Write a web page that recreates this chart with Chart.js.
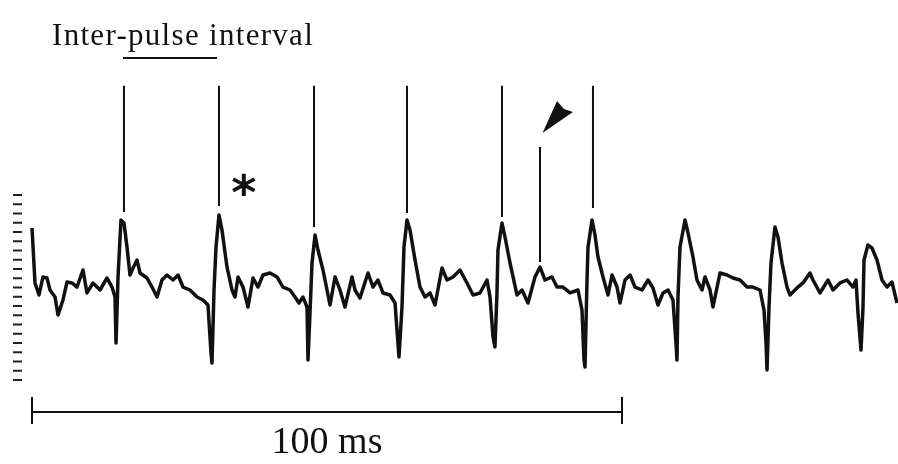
<!DOCTYPE html>
<html>
<head>
<meta charset="utf-8">
<script src="https://cdn.jsdelivr.net/npm/chart.js@4"></script>
<style>
  html, body { margin: 0; padding: 0; background: #fff; }
  #wrap { width: 898px; height: 464px; position: relative; }
</style>
</head>
<body>
<div id="wrap"><canvas id="myChart"></canvas></div>
<script>
// recorded trace, [time in ms, amplitude in scale divisions]
var tracePoints = [
  [0, 16.43], [0.51, 10.49], [1.19, 9.19], [1.86, 11.14], [2.54, 11.03], [3.05, 9.73], [3.9, 8.97], [4.41, 7.03],
  [5.25, 8.65], [5.93, 10.59], [6.78, 10.49], [7.63, 10.05], [8.64, 11.89], [9.32, 9.41], [10.34, 10.49], [11.53, 9.73],
  [12.71, 11.03], [13.56, 10.05], [14.07, 8.97], [14.24, 4.0], [14.58, 11.14], [15.08, 17.3], [15.59, 16.97], [16.1, 14.38],
  [16.61, 11.35], [17.12, 12.11], [17.8, 12.97], [18.31, 11.57], [19.49, 11.03], [20.34, 10.05], [21.19, 8.97], [22.03, 10.81],
  [22.88, 11.35], [23.9, 10.81], [24.75, 11.35], [25.59, 10.05], [26.78, 9.73], [27.97, 8.97], [28.98, 8.65], [29.83, 8.11],
  [30.34, 2.92], [30.51, 1.84], [30.85, 9.73], [31.19, 14.38], [31.69, 17.84], [32.2, 16.22], [33.05, 12.22], [33.9, 9.73],
  [34.41, 8.97], [34.92, 11.14], [35.76, 10.05], [36.61, 7.89], [37.46, 11.03], [38.31, 10.05], [39.15, 11.35], [40.34, 11.57],
  [41.53, 11.14], [42.54, 10.05], [43.73, 9.73], [44.58, 8.97], [45.25, 8.32], [45.93, 8.97], [46.61, 7.89], [46.78, 2.16],
  [47.12, 7.24], [47.46, 12.65], [47.97, 15.68], [48.47, 14.05], [49.32, 11.89], [50.51, 8.11], [51.36, 11.14], [52.2, 9.73],
  [53.05, 7.89], [54.24, 11.14], [54.75, 9.73], [55.59, 8.86], [56.95, 11.57], [57.8, 10.05], [58.64, 10.81], [59.49, 9.41],
  [60.68, 9.19], [61.53, 8.32], [61.86, 5.41], [62.2, 2.49], [62.71, 7.89], [63.05, 14.38], [63.56, 17.3], [64.07, 16.22],
  [64.92, 12.97], [65.76, 10.05], [66.61, 8.97], [67.46, 9.41], [68.31, 8.11], [69.49, 12.11], [70.34, 10.81], [71.36, 11.14],
  [72.54, 11.89], [73.73, 10.49], [74.75, 9.19], [75.93, 9.41], [77.12, 10.81], [77.63, 8.97], [78.14, 4.65], [78.47, 3.57],
  [78.81, 9.41], [78.98, 14.05], [79.66, 16.97], [80.17, 15.46], [81.02, 12.65], [82.2, 9.19], [83.05, 9.73], [84.07, 8.32],
  [85.25, 11.14], [86.1, 12.22], [86.95, 10.81], [88.14, 11.14], [88.98, 10.05], [90.0, 10.05], [91.19, 9.41], [92.54, 9.73],
  [93.22, 7.57], [93.56, 2.16], [93.73, 1.41], [94.07, 10.81], [94.24, 14.38], [94.92, 17.3], [95.42, 15.68], [95.93, 13.3],
  [96.78, 11.14], [97.63, 9.19], [98.31, 11.35], [99.15, 10.05], [99.66, 8.32], [100.51, 10.81], [101.36, 11.35], [102.2, 10.05],
  [103.39, 9.73], [104.41, 10.81], [105.25, 9.95], [106.1, 8.11], [106.95, 9.41], [107.8, 9.73], [108.64, 8.65], [109.15, 4.0],
  [109.32, 2.16], [109.49, 8.97], [109.83, 14.38], [110.68, 17.3], [111.19, 15.89], [112.03, 13.3], [112.71, 10.81], [113.56, 9.73],
  [114.07, 11.14], [114.92, 9.73], [115.42, 7.89], [116.61, 11.57], [117.8, 11.35], [118.81, 11.03], [120.0, 10.81], [121.19, 10.05],
  [122.2, 10.05], [123.39, 9.73], [124.07, 7.57], [124.41, 4.0], [124.58, 1.08], [124.92, 7.89], [125.25, 12.65], [125.93, 16.54],
  [126.44, 15.46], [127.12, 12.65], [127.97, 10.05], [128.47, 9.19], [129.66, 9.95], [130.68, 10.49], [131.86, 11.57], [132.37, 10.81],
  [133.56, 9.41], [134.92, 10.81], [135.76, 9.73], [136.95, 10.49], [138.14, 10.81], [139.15, 10.05], [139.66, 10.81], [140.0, 7.24],
  [140.51, 3.24], [140.85, 7.89], [141.02, 12.97], [141.69, 14.59], [142.37, 14.27], [143.22, 12.97], [144.07, 10.81], [144.92, 10.05],
  [145.76, 10.59], [146.61, 8.32]
];

// pulse markers drawn above the spikes
var markerTimes = [15.59, 31.69, 47.8, 63.56, 79.66, 95.08];
var markerBottoms = [18.16, 18.81, 16.54, 18.05, 17.62, 18.59];
var markerTop = 31.8;

// short marker pointed at by the arrowhead
var extraMarker = { time: 86.1, top: 25.19, bottom: 12.76 };
var arrowHead = [[86.53, 26.7], [88.98, 30.16], [90.17, 29.3], [91.69, 28.97]];

// inter-pulse interval bar
var intervalStart = 15.42;
var intervalEnd = 31.36;
var intervalLevel = 34.81;

// left-hand scale divisions
var divisionValues = [0, 1, 2, 3, 4, 5, 6, 7, 8, 9, 10, 11, 12, 13, 14, 15, 16, 17, 18, 19, 20];
var divisionTime = -2.46;

// time scale bar
var scaleBarStart = 0;
var scaleBarEnd = 100;
var scaleBarLevel = -3.46;
var scaleBarTickTop = -1.84;
var scaleBarTickBottom = -4.76;
var scaleBarLabel = "100 ms";
var scaleBarLabelLevel = -7.89;

var titleText = "Inter-pulse interval";
var titleTime = 3.39;
var titleLevel = 36.2;

var starTime = 35.9;
var starLevel = 20.9;

function segments(list) {
  var out = [];
  list.forEach(function (s) {
    out.push({ x: s[0], y: s[1] });
    out.push({ x: s[2], y: s[3] });
    out.push({ x: s[2], y: null });
  });
  return out;
}

var markerSegs = markerTimes.map(function (t, i) {
  return [t, markerTop, t, markerBottoms[i]];
});
markerSegs.push([extraMarker.time, extraMarker.top, extraMarker.time, extraMarker.bottom]);

var scaleSegs = [
  [scaleBarStart, scaleBarLevel, scaleBarEnd, scaleBarLevel],
  [scaleBarStart, scaleBarTickTop, scaleBarStart, scaleBarTickBottom],
  [scaleBarEnd, scaleBarTickTop, scaleBarEnd, scaleBarTickBottom],
  [intervalStart, intervalLevel, intervalEnd, intervalLevel]
];

var annotations = {
  id: "annotations",
  afterDatasetsDraw: function (chart) {
    var c = chart.ctx;
    var sx = chart.scales.x, sy = chart.scales.y;
    c.save();
    c.fillStyle = "#111";

    // arrowhead
    c.beginPath();
    arrowHead.forEach(function (p, i) {
      var px = sx.getPixelForValue(p[0]), py = sy.getPixelForValue(p[1]);
      if (i === 0) c.moveTo(px, py); else c.lineTo(px, py);
    });
    c.closePath();
    c.fill();

    c.textBaseline = "alphabetic";
    c.font = "31px 'Liberation Serif', 'Times New Roman', serif";
    c.letterSpacing = "1.3px";
    c.textAlign = "left";
    c.fillText(titleText, sx.getPixelForValue(titleTime), sy.getPixelForValue(titleLevel));

    c.letterSpacing = "0px";
    c.font = "38px 'Liberation Serif', 'Times New Roman', serif";
    c.textAlign = "center";
    c.fillText(scaleBarLabel, sx.getPixelForValue((scaleBarStart + scaleBarEnd) / 2), sy.getPixelForValue(scaleBarLabelLevel));

    c.font = "bold 48px 'DejaVu Sans', sans-serif";
    c.textBaseline = "middle";
    c.fillText("*", sx.getPixelForValue(starTime), sy.getPixelForValue(starLevel) + 10);
    c.restore();
  }
};

var ctx = document.getElementById("myChart").getContext("2d");
var chart = new Chart(ctx, {
  type: "line",
  data: {
    datasets: [
      {
        data: tracePoints.map(function (p) { return { x: p[0], y: p[1] }; }),
        borderColor: "#111",
        borderWidth: 3.5,
        pointRadius: 0,
        tension: 0,
        borderJoinStyle: "round",
      },
      {
        data: segments(markerSegs),
        borderColor: "#111",
        borderWidth: 2,
        pointRadius: 0,
        spanGaps: false,
      },
      {
        data: segments(scaleSegs),
        borderColor: "#111",
        borderWidth: 2,
        pointRadius: 0,
        spanGaps: false,
      },
      {
        data: divisionValues.map(function (v) { return { x: divisionTime, y: v }; }),
        showLine: false,
        pointStyle: "line",
        pointRadius: 4.5,
        borderColor: "#222",
        borderWidth: 2,
      },
    ],
  },
  options: {
    responsive: true,
    maintainAspectRatio: false,
    animation: false,
    layout: { padding: 0, autoPadding: false },
    plugins: {
      legend: { display: false },
      tooltip: { enabled: false },
    },
    scales: {
      x: { type: "linear", min: -5.424, max: 146.78, display: false },
      y: { type: "linear", min: -9.08, max: 41.08, display: false },
    },
  },
  plugins: [annotations],
});
</script>
</body>
</html>
